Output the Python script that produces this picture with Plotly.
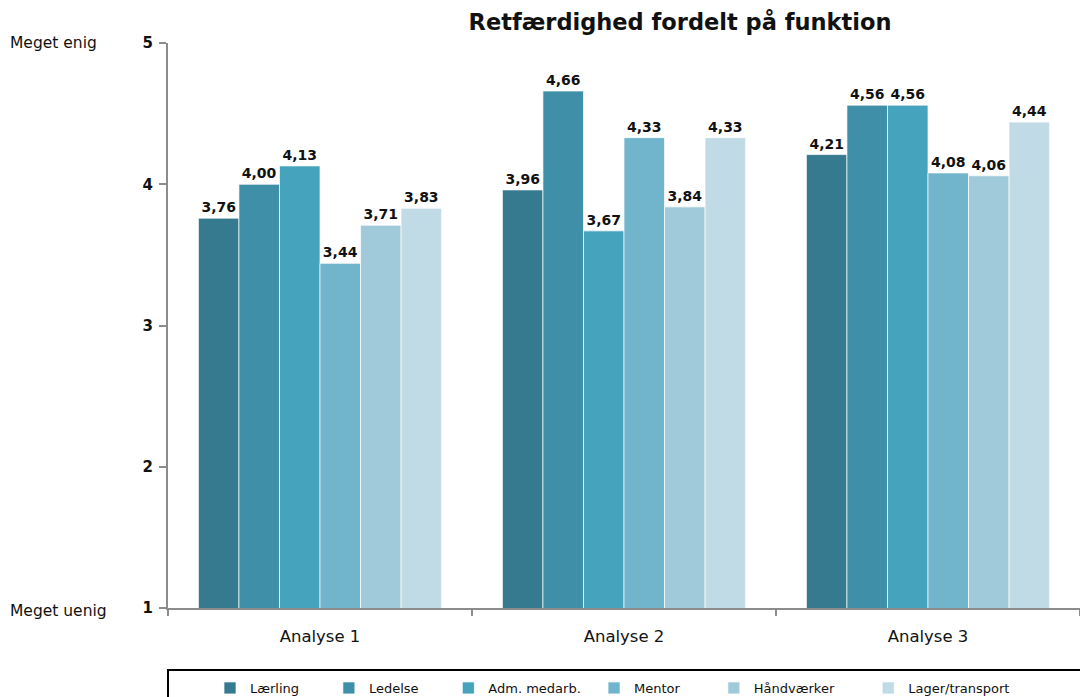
import plotly.graph_objects as go

categories = ["Analyse 1", "Analyse 2", "Analyse 3"]
series_names = ["Lærling", "Ledelse", "Adm. medarb.", "Mentor", "Håndværker", "Lager/transport"]
laerling = [3.76, 3.96, 4.21]
ledelse = [4.00, 4.66, 4.56]
adm_medarb = [4.13, 3.67, 4.56]
mentor = [3.44, 4.33, 4.08]
haandvaerker = [3.71, 3.84, 4.06]
lager_transport = [3.83, 4.33, 4.44]
y_ticks = [1, 2, 3, 4, 5]

series_values = [laerling, ledelse, adm_medarb, mentor, haandvaerker, lager_transport]
colors = ["#357A8F", "#3F8FA8", "#46A3BD", "#70B5CC", "#A0CADA", "#C0DBE5"]
# trailing non-breaking spaces to space the legend entries like the reference
legend_pad = [6, 6, 2, 7, 7, 0]

FONT = "DejaVu Sans, Verdana, sans-serif"

fig = go.Figure()
for name, vals, col, pad in zip(series_names, series_values, colors, legend_pad):
    fig.add_trace(go.Bar(
        x=categories, y=vals, name=name + "\u00a0" * pad,
        marker=dict(color=col, line=dict(color="rgba(255,255,255,0.7)", width=1)),
        texttemplate="%{y:.2f}", textposition="outside",
        textfont=dict(family=FONT, size=14, color="#111111", weight="bold"),
        cliponaxis=False,
    ))

W, H = 1080, 697
L, R, T, B = 168, 0, 43, 89

fig.update_layout(
    width=W, height=H,
    margin=dict(l=L, r=R, t=T, b=B, autoexpand=False),
    paper_bgcolor="white", plot_bgcolor="white",
    separators=",.",
    barmode="group", bargap=0.2, bargroupgap=0,
    font=dict(family=FONT, size=14, color="#111111"),
    title=dict(text="<b>Retfærdighed fordelt på funktion</b>",
               x=680 / W, xref="container", xanchor="center",
               y=1 - 22 / H, yref="container", yanchor="middle",
               font=dict(family=FONT, size=22.5, color="#111111")),
    showlegend=True,
    legend=dict(orientation="h", xref="container", yref="container",
                x=210 / W, xanchor="left", y=1 - 673 / H, yanchor="top",
                font=dict(family=FONT, size=13, color="#111111"),
                bgcolor="rgba(0,0,0,0)", borderwidth=0,
                itemclick=False, traceorder="normal"),
    xaxis=dict(showline=True, linecolor="#8c8c8c", linewidth=2,
               ticks="outside", tickson="boundaries", ticklen=6, tickcolor="#8c8c8c", tickwidth=2,
               showgrid=False, range=[-0.5, 2.5],
               tickfont=dict(family=FONT, size=16.5, color="#111111"), ticklabelstandoff=12),
    yaxis=dict(range=[1, 5], tickvals=y_ticks, showline=True, linecolor="#8c8c8c", linewidth=2,
               ticks="outside", ticklen=7, tickcolor="#8c8c8c", tickwidth=2,
               showgrid=False, zeroline=False,
               tickfont=dict(family=FONT, size=15, color="#111111", weight="bold"),
               ticklabelstandoff=3),
)

fig.add_annotation(text="Meget enig", xref="paper", yref="y", x=0, y=5,
                   xshift=-160, xanchor="left", yanchor="middle", showarrow=False,
                   font=dict(family=FONT, size=15.5, color="#111111"))
fig.add_annotation(text="Meget uenig", xref="paper", yref="y", x=0, y=1,
                   xshift=-160, yshift=-3, xanchor="left", yanchor="middle", showarrow=False,
                   font=dict(family=FONT, size=15.5, color="#111111"))

# legend frame
fig.add_shape(type="rect", xref="paper", yref="paper",
              x0=0, x1=1.02, y0=(H - B - 670) / (H - T - B), y1=(H - B - 705) / (H - T - B),
              line=dict(color="#000000", width=2), fillcolor="rgba(0,0,0,0)", layer="above")

fig.write_html("out.html", config={"displayModeBar": False},
               post_script="document.body.style.margin='0';document.body.style.overflow='hidden';")
